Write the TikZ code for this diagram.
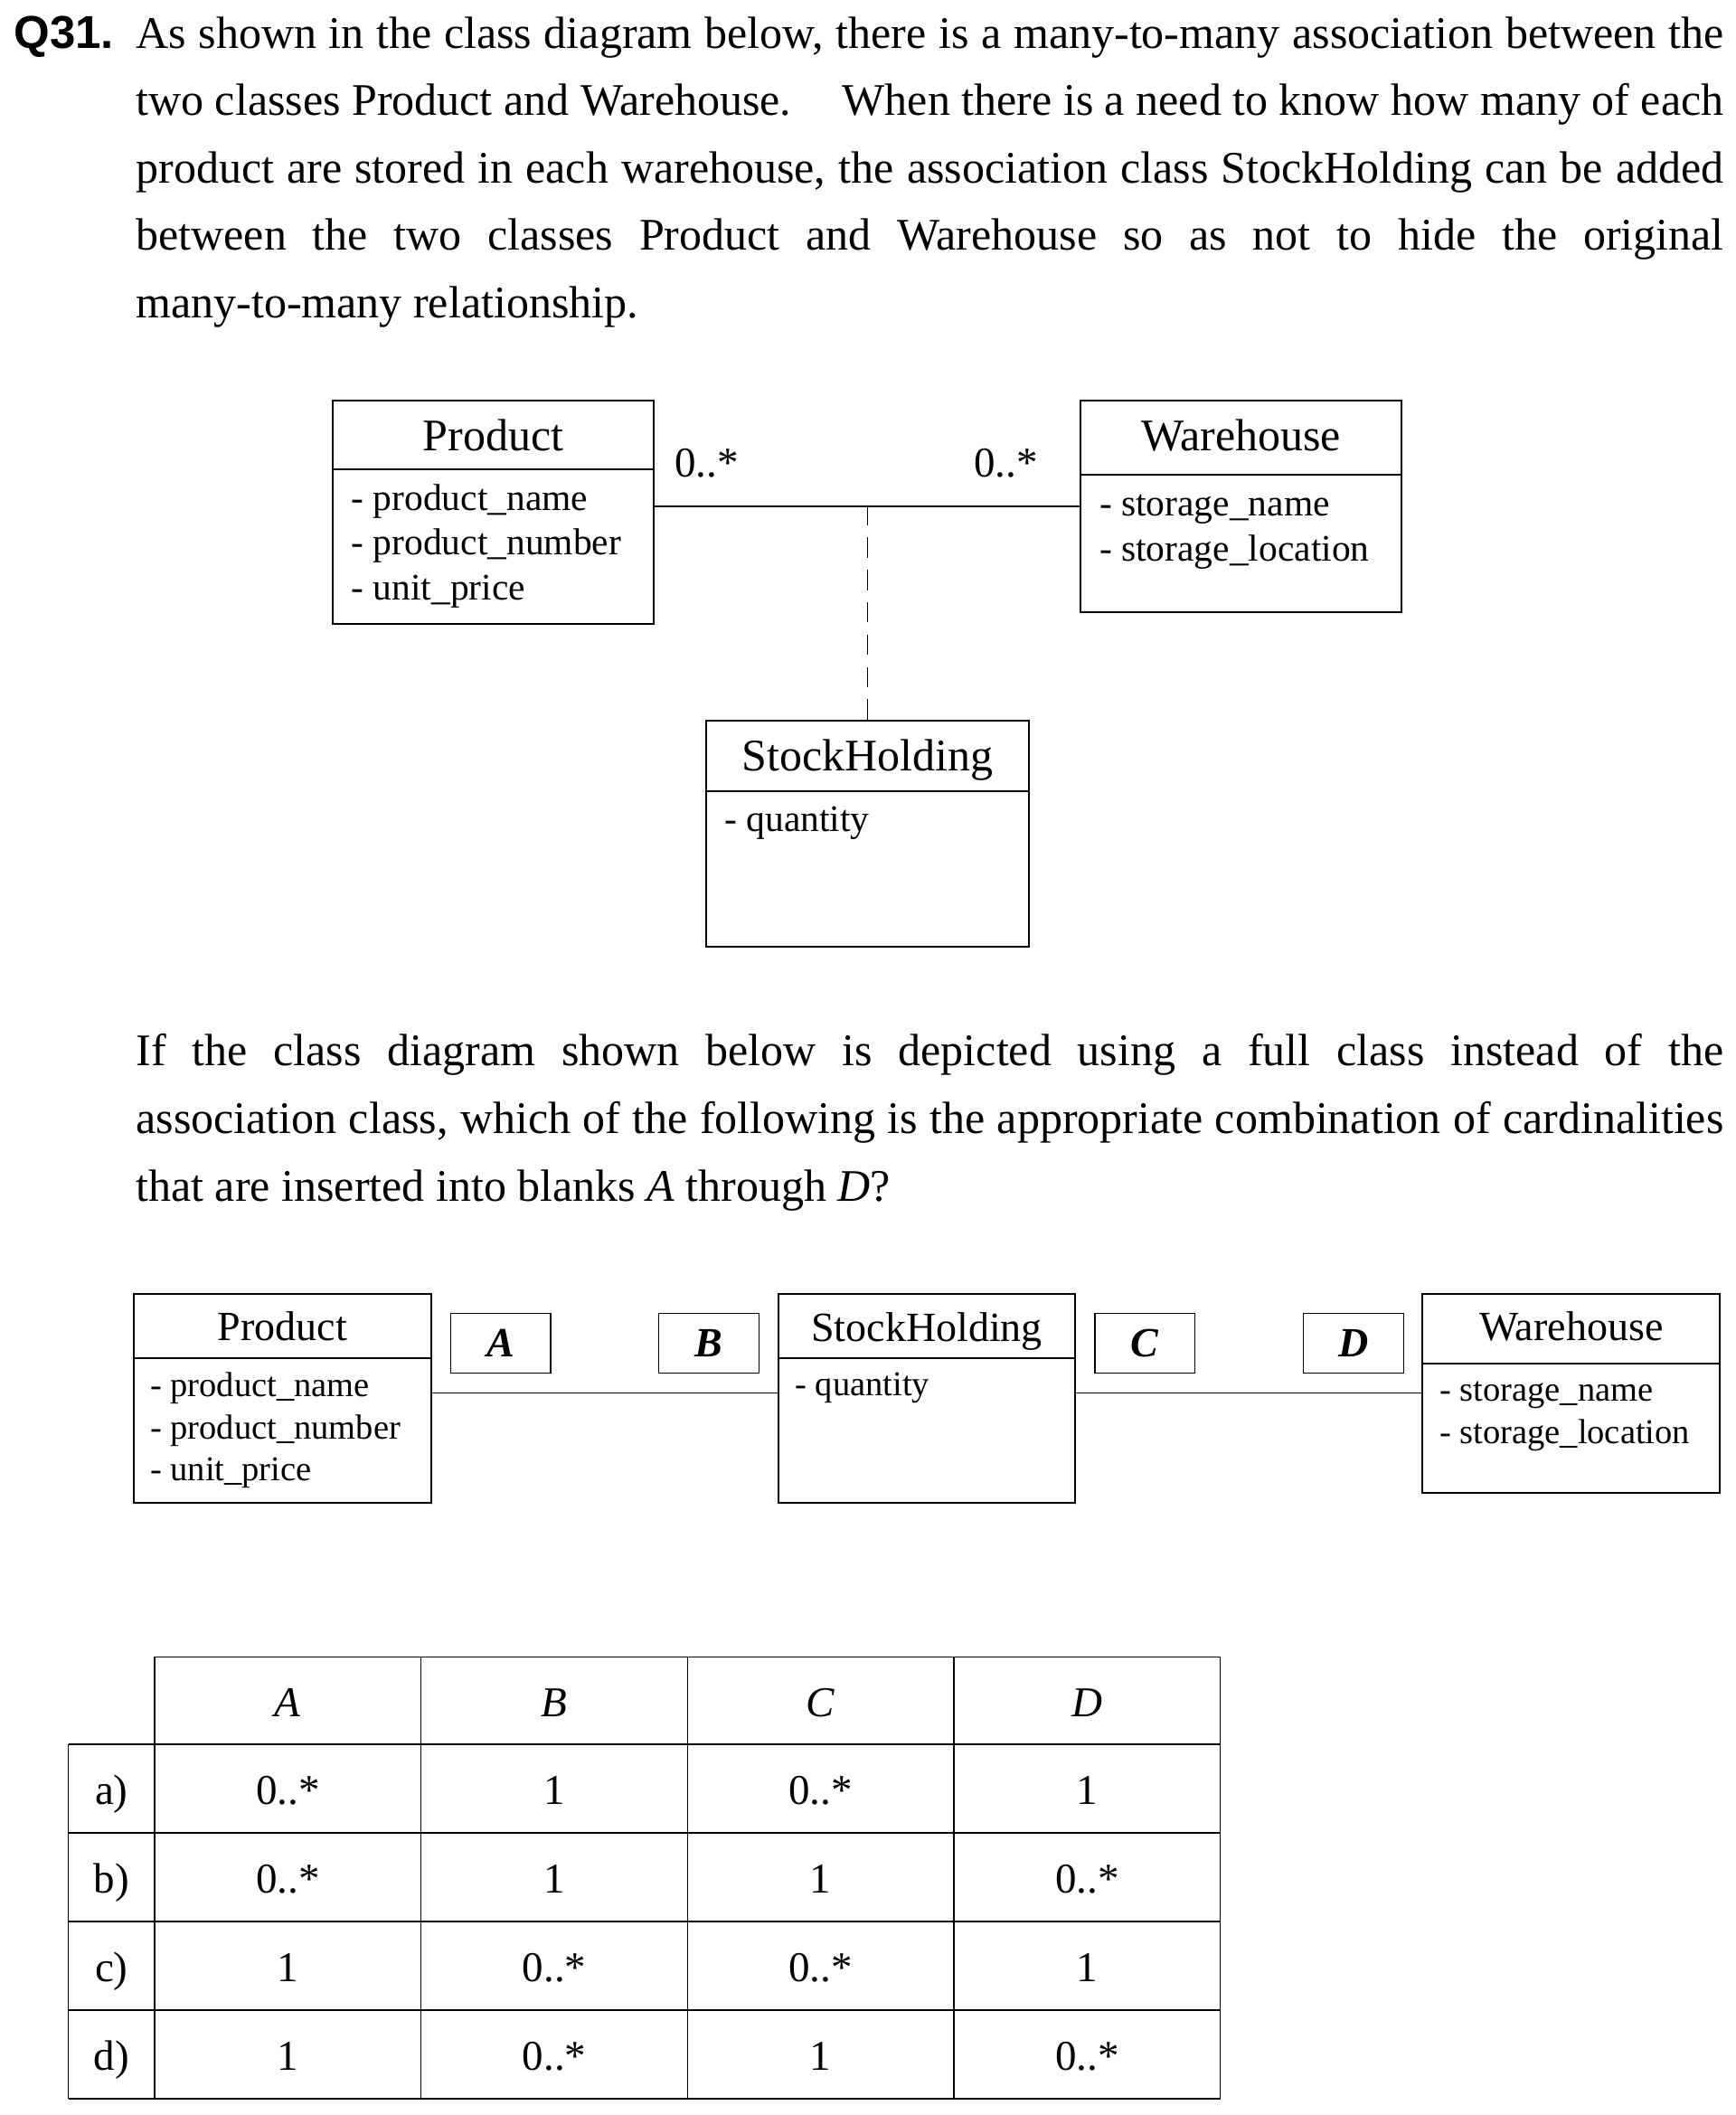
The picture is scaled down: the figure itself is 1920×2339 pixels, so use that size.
\documentclass[tikz,border=0pt]{standalone}
\usepackage{fontspec}
\setmainfont{Liberation Serif}
\setsansfont{Liberation Sans}
\usetikzlibrary{fit}
\newcommand\myBody{\fontsize{25}{30}\selectfont}
\begin{document}
\begin{tikzpicture}[x=0.5pt,y=-0.5pt,
  cls/.style={draw, line width=0.85pt, inner sep=0pt},
  divider/.style={line width=0.85pt},
  assoc/.style={line width=0.75pt},
  dashline/.style={line width=0.7pt, dash pattern=on 11.2pt off 6.7pt},
  blank/.style={draw, line width=0.7pt, minimum width=55.35pt, minimum height=33pt, inner sep=0pt, font=\fontsize{23}{23}\selectfont\bfseries\itshape},
  para/.style={inner sep=0pt, anchor=base west, font=\myBody},
  ttlA/.style={inner sep=0pt, anchor=base, font=\fontsize{25}{30}\selectfont},
  ttlB/.style={inner sep=0pt, anchor=base, font=\fontsize{23}{28}\selectfont},
  attA/.style={inner sep=0pt, anchor=base west, font=\fontsize{20.75}{25}\selectfont},
  attB/.style={inner sep=0pt, anchor=base west, font=\fontsize{19.25}{23}\selectfont},
  mult/.style={inner sep=0pt, anchor=base west, font=\fontsize{23.5}{28}\selectfont},
  tline/.style={line width=0.7pt},
  tcell/.style={inner sep=0pt, anchor=base, font=\fontsize{23.5}{28}\selectfont}]
\useasboundingbox (0,0) rectangle (1920,2339);

% ---------------- question text ----------------
\node[inner sep=0pt, anchor=base west, font=\fontsize{25.5}{30}\selectfont\sffamily\bfseries] (q) at (15,53.3) {Q31.};
\node[para] (l1) at (150,53.3) {\makebox[878pt][s]{As shown in the class diagram below, there is a many-to-many association between the}};
\node[para] (l2) at (150,127.8) {\makebox[878pt][s]{two classes Product and Warehouse.\hfill When there is a need to know how many of each}};
\node[para] (l3) at (150,202.3) {\makebox[878pt][s]{product are stored in each warehouse, the association class StockHolding can be added}};
\node[para] (l4) at (150,276.8) {\makebox[878pt][s]{between the two classes Product and Warehouse so as not to hide the original}};
\node[para] (l5) at (150,351.3) {many-to-many relationship.};

% ---------------- diagram 1 ----------------
\node[cls, fit={(368.3,442.7) (722.7,690)}] (p1) {};
\draw[divider] (p1.west |- 0,519) -- (p1.east |- 0,519);
\node[ttlA] (p1t) at (545.5,498.7) {Product};
\node[attA] (p1a) at (388.3,564) {- product\_name};
\node[attA] (p1b) at (388.3,613.3) {- product\_number};
\node[attA] (p1c) at (388.3,663.3) {- unit\_price};

\node[cls, fit={(1195.3,442.7) (1550,677.3)}] (w1) {};
\draw[divider] (w1.west |- 0,525) -- (w1.east |- 0,525);
\node[ttlA] (w1t) at (1372.7,498.7) {Warehouse};
\node[attA] (w1a) at (1215.7,570.7) {- storage\_name};
\node[attA] (w1b) at (1215.7,620) {- storage\_location};

\node[cls, fit={(781,796.7) (1138,1047)}] (s1) {};
\draw[divider] (s1.west |- 0,875) -- (s1.east |- 0,875);
\node[ttlA] (s1t) at (959.5,852.7) {StockHolding};
\node[attA] (s1a) at (801,919) {- quantity};

\draw[assoc] (p1.east |- w1.west) -- (w1.west);
\draw[dashline] (s1.north) -- (s1.north |- w1.west);
\node[mult] (m1) at (746,527.3) {0..*};
\node[mult] (m2) at (1076.7,527.3) {0..*};

% ---------------- question text 2 ----------------
\node[para] (k1) at (150,1178) {\makebox[878pt][s]{If the class diagram shown below is depicted using a full class instead of the}};
\node[para] (k2) at (150,1253) {\makebox[878pt][s]{association class, which of the following is the appropriate combination of cardinalities}};
\node[para] (k3) at (150,1328) {that are inserted into blanks \textit{A} through \textit{D}?};

% ---------------- diagram 2 ----------------
\node[cls, fit={(147.7,1430.7) (477.3,1662.3)}] (p2) {};
\draw[divider] (p2.west |- 0,1502.3) -- (p2.east |- 0,1502.3);
\node[ttlB] (p2t) at (312.5,1482.7) {Product};
\node[attB] (p2a) at (165.7,1544.3) {- product\_name};
\node[attB] (p2b) at (165.7,1591) {- product\_number};
\node[attB] (p2c) at (165.7,1637.7) {- unit\_price};

\node[cls, fit={(860.7,1430.7) (1189.3,1662.3)}] (s2) {};
\draw[divider] (s2.west |- 0,1501.7) -- (s2.east |- 0,1501.7);
\node[ttlB] (s2t) at (1025,1483.3) {StockHolding};
\node[attB] (s2a) at (879,1543.3) {- quantity};

\node[cls, fit={(1573.3,1430.7) (1902.3,1650.7)}] (w2) {};
\draw[divider] (w2.west |- 0,1507.7) -- (w2.east |- 0,1507.7);
\node[ttlB] (w2t) at (1737.8,1482.7) {Warehouse};
\node[attB] (w2a) at (1591.7,1549) {- storage\_name};
\node[attB] (w2b) at (1591.7,1596.7) {- storage\_location};

\draw[assoc] (p2.east |- w2.west) -- (s2.west |- w2.west);
\draw[assoc] (s2.east |- w2.west) -- (w2.west);

\node[blank] (bA) at (553.7,1485.3) {A};
\node[blank] (bB) at (784,1485.3) {B};
\node[blank] (bC) at (1266.3,1485.3) {C};
\node[blank] (bD) at (1497,1485.3) {D};

% ---------------- table ----------------
\draw[tline] (171,1832.3) -- (1349.7,1832.3);
\foreach \yy in {1929,2027,2125,2223,2321} {\draw[tline] (75.7,\yy) -- (1349.7,\yy);}
\foreach \xx in {171,465.7,760.3,1055,1349.7} {\draw[tline] (\xx,1832.3) -- (\xx,2321);}
\draw[tline] (75.7,1929) -- (75.7,2321);

\node[tcell] (hA) at (318.4,1898.3) {\textit{A}};
\node[tcell] (hB) at (613,1898.3) {\textit{B}};
\node[tcell] (hC) at (907.7,1898.3) {\textit{C}};
\node[tcell] (hD) at (1202.4,1898.3) {\textit{D}};

\node[tcell] (ra) at (123.3,1995.7) {a)};
\node[tcell] (ra1) at (318.4,1995.7) {0..*};
\node[tcell] (ra2) at (613,1995.7) {1};
\node[tcell] (ra3) at (907.7,1995.7) {0..*};
\node[tcell] (ra4) at (1202.4,1995.7) {1};

\node[tcell] (rb) at (123.3,2093.7) {b)};
\node[tcell] (rb1) at (318.4,2093.7) {0..*};
\node[tcell] (rb2) at (613,2093.7) {1};
\node[tcell] (rb3) at (907.7,2093.7) {1};
\node[tcell] (rb4) at (1202.4,2093.7) {0..*};

\node[tcell] (rc) at (123.3,2191.7) {c)};
\node[tcell] (rc1) at (318.4,2191.7) {1};
\node[tcell] (rc2) at (613,2191.7) {0..*};
\node[tcell] (rc3) at (907.7,2191.7) {0..*};
\node[tcell] (rc4) at (1202.4,2191.7) {1};

\node[tcell] (rd) at (123.3,2289.7) {d)};
\node[tcell] (rd1) at (318.4,2289.7) {1};
\node[tcell] (rd2) at (613,2289.7) {0..*};
\node[tcell] (rd3) at (907.7,2289.7) {1};
\node[tcell] (rd4) at (1202.4,2289.7) {0..*};
\end{tikzpicture}
\end{document}
